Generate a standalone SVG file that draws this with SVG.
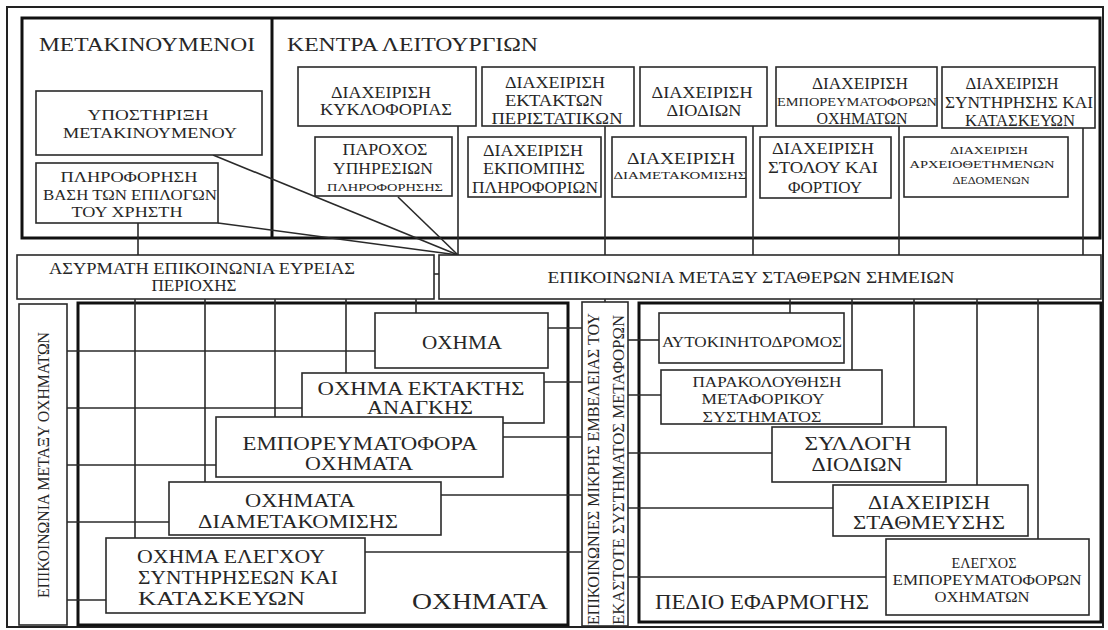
<svg xmlns="http://www.w3.org/2000/svg" width="1108" height="630" viewBox="0 0 1108 630">
<style>
.box{fill:#fff;stroke:#2a2a2a;stroke-width:1.6}
.thick{fill:none;stroke:#111;stroke-width:3}
.frame{fill:#fff;stroke:#222;stroke-width:2}
.ln{stroke:#2a2a2a;stroke-width:1.6;fill:none}
text{font-family:"Liberation Serif","DejaVu Serif","Times New Roman",serif;fill:#262626;text-anchor:middle;dominant-baseline:central}
.st{text-anchor:start}
.f11{font-size:11px}.f12{font-size:12px}.f14{font-size:14px}.f15{font-size:15px}.f16{font-size:16px}.f19{font-size:19px}.f21{font-size:21px}.f24{font-size:24px}
</style>
<rect class="frame" x="7" y="7" width="1096" height="620"/>
<g id="frames">
<rect class="thick" x="22" y="18" width="1078" height="220"/>
<line class="thick" x1="272" y1="18" x2="272" y2="238"/>
<rect class="thick" x="78" y="303" width="490" height="322"/>
<rect class="thick" x="639" y="303" width="462" height="319"/>
</g>
<g id="connectors" class="ln">
<line x1="138" y1="223" x2="138" y2="255"/>
<line x1="213" y1="155" x2="458" y2="255"/>
<line x1="218" y1="223" x2="458" y2="255"/>
<line x1="398" y1="197" x2="458" y2="255"/>
<line x1="458" y1="126" x2="458" y2="255"/>
<line x1="605" y1="126" x2="605" y2="255"/>
<line x1="753" y1="126" x2="753" y2="255"/>
<line x1="899" y1="126" x2="899" y2="255"/>
<line x1="1083" y1="128" x2="1083" y2="255"/>
<line x1="434" y1="274" x2="439" y2="274"/>
<line x1="135" y1="299" x2="135" y2="538"/>
<line x1="205" y1="299" x2="205" y2="482"/>
<line x1="275" y1="299" x2="275" y2="417"/>
<line x1="346" y1="299" x2="346" y2="373"/>
<line x1="416" y1="299" x2="416" y2="313"/>
<line x1="67" y1="351" x2="375" y2="351"/>
<line x1="67" y1="408" x2="302" y2="408"/>
<line x1="67" y1="465" x2="216" y2="465"/>
<line x1="67" y1="522" x2="169" y2="522"/>
<line x1="67" y1="600" x2="106" y2="600"/>
<line x1="548" y1="328" x2="582" y2="328"/>
<line x1="544" y1="382" x2="582" y2="382"/>
<line x1="503" y1="437" x2="582" y2="437"/>
<line x1="441" y1="495" x2="582" y2="495"/>
<line x1="365" y1="552" x2="582" y2="552"/>
<line x1="605" y1="299" x2="605" y2="302"/>
<line x1="790" y1="299" x2="790" y2="313"/>
<line x1="852" y1="299" x2="852" y2="370"/>
<line x1="914" y1="299" x2="914" y2="427"/>
<line x1="977" y1="299" x2="977" y2="485"/>
<line x1="1038" y1="299" x2="1038" y2="539"/>
<line x1="628" y1="340" x2="659" y2="340"/>
<line x1="628" y1="395" x2="661" y2="395"/>
<line x1="628" y1="453" x2="772" y2="453"/>
<line x1="628" y1="508" x2="833" y2="508"/>
<line x1="628" y1="577" x2="886" y2="577"/>
</g>
<g id="titles">
<text class="st f19" x="39" y="44" textLength="216" lengthAdjust="spacingAndGlyphs">ΜΕΤΑΚΙΝΟΥΜΕΝΟΙ</text>
<text class="st f19" x="287" y="44" textLength="251" lengthAdjust="spacingAndGlyphs">ΚΕΝΤΡΑ ΛΕΙΤΟΥΡΓΙΩΝ</text>
<text class="st f24" x="412" y="601" textLength="136" lengthAdjust="spacingAndGlyphs">ΟΧΗΜΑΤΑ</text>
<text class="st f21" x="655" y="602" textLength="214" lengthAdjust="spacingAndGlyphs">ΠΕΔΙΟ ΕΦΑΡΜΟΓΗΣ</text>
</g>
<g id="n-ypostirixi">
<rect class="box" x="36" y="91" width="226" height="64"/>
<text class="f15" x="148" y="115" textLength="121" lengthAdjust="spacingAndGlyphs">ΥΠΟΣΤΗΡΙΞΗ</text>
<text class="f15" x="150" y="133" textLength="174" lengthAdjust="spacingAndGlyphs">ΜΕΤΑΚΙΝΟΥΜΕΝΟΥ</text>
</g>
<g id="n-pliroforisi">
<rect class="box" x="36" y="163" width="182" height="60"/>
<text class="f14" x="129" y="177" textLength="137" lengthAdjust="spacingAndGlyphs">ΠΛΗΡΟΦΟΡΗΣΗ</text>
<text class="f14" x="130" y="195" textLength="174" lengthAdjust="spacingAndGlyphs">ΒΑΣΗ ΤΩΝ ΕΠΙΛΟΓΩΝ</text>
<text class="f14" x="127" y="212" textLength="111" lengthAdjust="spacingAndGlyphs">ΤΟΥ ΧΡΗΣΤΗ</text>
</g>
<g id="n-kykloforia">
<rect class="box" x="298" y="67" width="178" height="59"/>
<text class="f16" x="381" y="92" textLength="100" lengthAdjust="spacingAndGlyphs">ΔΙΑΧΕΙΡΙΣΗ</text>
<text class="f16" x="386" y="109" textLength="132" lengthAdjust="spacingAndGlyphs">ΚΥΚΛΟΦΟΡΙΑΣ</text>
</g>
<g id="n-ektakta">
<rect class="box" x="482" y="67" width="152" height="59"/>
<text class="f16" x="555" y="82" textLength="100" lengthAdjust="spacingAndGlyphs">ΔΙΑΧΕΙΡΙΣΗ</text>
<text class="f16" x="554" y="100" textLength="98" lengthAdjust="spacingAndGlyphs">ΕΚΤΑΚΤΩΝ</text>
<text class="f16" x="557" y="118" textLength="131" lengthAdjust="spacingAndGlyphs">ΠΕΡΙΣΤΑΤΙΚΩΝ</text>
</g>
<g id="n-diodia">
<rect class="box" x="640" y="67" width="127" height="59"/>
<text class="f16" x="702" y="92" textLength="101" lengthAdjust="spacingAndGlyphs">ΔΙΑΧΕΙΡΙΣΗ</text>
<text class="f16" x="704" y="110" textLength="75" lengthAdjust="spacingAndGlyphs">ΔΙΟΔΙΩΝ</text>
</g>
<g id="n-emporeumatofora">
<rect class="box" x="776" y="67" width="161" height="59"/>
<text class="f16" x="860" y="83" textLength="96" lengthAdjust="spacingAndGlyphs">ΔΙΑΧΕΙΡΙΣΗ</text>
<text class="f12" x="857" y="102" textLength="160" lengthAdjust="spacingAndGlyphs">ΕΜΠΟΡΕΥΜΑΤΟΦΟΡΩΝ</text>
<text class="f16" x="862" y="118" textLength="91" lengthAdjust="spacingAndGlyphs">ΟΧΗΜΑΤΩΝ</text>
</g>
<g id="n-syntirisi">
<rect class="box" x="942" y="67" width="153" height="61"/>
<text class="f16" x="1012" y="83" textLength="93" lengthAdjust="spacingAndGlyphs">ΔΙΑΧΕΙΡΙΣΗ</text>
<text class="f16" x="1019" y="102" textLength="148" lengthAdjust="spacingAndGlyphs">ΣΥΝΤΗΡΗΣΗΣ ΚΑΙ</text>
<text class="f16" x="1020" y="120" textLength="110" lengthAdjust="spacingAndGlyphs">ΚΑΤΑΣΚΕΥΩΝ</text>
</g>
<g id="n-parochos">
<rect class="box" x="315" y="137" width="137" height="59"/>
<text class="f16" x="385" y="149" textLength="85" lengthAdjust="spacingAndGlyphs">ΠΑΡΟΧΟΣ</text>
<text class="f16" x="383" y="168" textLength="100" lengthAdjust="spacingAndGlyphs">ΥΠΗΡΕΣΙΩΝ</text>
<text class="f11" x="385" y="187" textLength="116" lengthAdjust="spacingAndGlyphs">ΠΛΗΡΟΦΟΡΗΣΗΣ</text>
</g>
<g id="n-ekpompi">
<rect class="box" x="468" y="137" width="133" height="60"/>
<text class="f16" x="533" y="150" textLength="100" lengthAdjust="spacingAndGlyphs">ΔΙΑΧΕΙΡΙΣΗ</text>
<text class="f16" x="534" y="168" textLength="102" lengthAdjust="spacingAndGlyphs">ΕΚΠΟΜΠΗΣ</text>
<text class="f16" x="535" y="187" textLength="126" lengthAdjust="spacingAndGlyphs">ΠΛΗΡΟΦΟΡΙΩΝ</text>
</g>
<g id="n-diametakomisi">
<rect class="box" x="612" y="137" width="134" height="60"/>
<text class="f16" x="681" y="158" textLength="108" lengthAdjust="spacingAndGlyphs">ΔΙΑΧΕΙΡΙΣΗ</text>
<text class="f11" x="680" y="175" textLength="133" lengthAdjust="spacingAndGlyphs">ΔΙΑΜΕΤΑΚΟΜΙΣΗΣ</text>
</g>
<g id="n-stolos">
<rect class="box" x="760" y="137" width="131" height="61"/>
<text class="f16" x="823" y="148" textLength="102" lengthAdjust="spacingAndGlyphs">ΔΙΑΧΕΙΡΙΣΗ</text>
<text class="f16" x="823" y="167" textLength="110" lengthAdjust="spacingAndGlyphs">ΣΤΟΛΟΥ ΚΑΙ</text>
<text class="f16" x="825" y="187" textLength="74" lengthAdjust="spacingAndGlyphs">ΦΟΡΤΙΟΥ</text>
</g>
<g id="n-archeia">
<rect class="box" x="904" y="137" width="164" height="60"/>
<text class="f11" x="989" y="150" textLength="78" lengthAdjust="spacingAndGlyphs">ΔΙΑΧΕΙΡΙΣΗ</text>
<text class="f11" x="982" y="164" textLength="145" lengthAdjust="spacingAndGlyphs">ΑΡΧΕΙΟΘΕΤΗΜΕΝΩΝ</text>
<text class="f11" x="991" y="180" textLength="77" lengthAdjust="spacingAndGlyphs">ΔΕΔΟΜΕΝΩΝ</text>
</g>
<g id="n-asyrmati">
<rect class="box" x="17" y="255" width="417" height="44"/>
<text class="f16" x="202" y="268" textLength="306" lengthAdjust="spacingAndGlyphs">ΑΣΥΡΜΑΤΗ ΕΠΙΚΟΙΝΩΝΙΑ ΕΥΡΕΙΑΣ</text>
<text class="f16" x="194" y="285" textLength="85" lengthAdjust="spacingAndGlyphs">ΠΕΡΙΟΧΗΣ</text>
</g>
<g id="n-statheres">
<rect class="box" x="439" y="255" width="662" height="44"/>
<text class="f16" x="751" y="277" textLength="407" lengthAdjust="spacingAndGlyphs">ΕΠΙΚΟΙΝΩΝΙΑ ΜΕΤΑΞΥ ΣΤΑΘΕΡΩΝ ΣΗΜΕΙΩΝ</text>
</g>
<g id="n-metaxy-ochimaton">
<rect class="box" x="19" y="304" width="48" height="321"/>
<text class="f16" transform="translate(43,465) rotate(-90)" x="0" y="0" textLength="266" lengthAdjust="spacingAndGlyphs">ΕΠΙΚΟΙΝΩΝΙΑ ΜΕΤΑΞΥ ΟΧΗΜΑΤΩΝ</text>
</g>
<g id="n-ochima">
<rect class="box" x="375" y="313" width="173" height="55"/>
<text class="f19" x="462" y="342" textLength="80" lengthAdjust="spacingAndGlyphs">ΟΧΗΜΑ</text>
</g>
<g id="n-ektaktis">
<rect class="box" x="302" y="373" width="242" height="50"/>
<text class="f19" x="421" y="388" textLength="207" lengthAdjust="spacingAndGlyphs">ΟΧΗΜΑ ΕΚΤΑΚΤΗΣ</text>
<text class="f19" x="420" y="407" textLength="106" lengthAdjust="spacingAndGlyphs">ΑΝΑΓΚΗΣ</text>
</g>
<g id="n-emporeumatofora-ochimata">
<rect class="box" x="216" y="417" width="287" height="60"/>
<text class="f19" x="360" y="443" textLength="235" lengthAdjust="spacingAndGlyphs">ΕΜΠΟΡΕΥΜΑΤΟΦΟΡΑ</text>
<text class="f19" x="359" y="463" textLength="108" lengthAdjust="spacingAndGlyphs">ΟΧΗΜΑΤΑ</text>
</g>
<g id="n-ochimata-diametakomisis">
<rect class="box" x="169" y="482" width="272" height="53"/>
<text class="f19" x="300" y="500" textLength="110" lengthAdjust="spacingAndGlyphs">ΟΧΗΜΑΤΑ</text>
<text class="f19" x="298" y="521" textLength="200" lengthAdjust="spacingAndGlyphs">ΔΙΑΜΕΤΑΚΟΜΙΣΗΣ</text>
</g>
<g id="n-elegchou">
<rect class="box" x="106" y="538" width="259" height="75"/>
<text class="st f19" x="137" y="556" textLength="188" lengthAdjust="spacingAndGlyphs">ΟΧΗΜΑ ΕΛΕΓΧΟΥ</text>
<text class="st f19" x="138" y="577" textLength="200" lengthAdjust="spacingAndGlyphs">ΣΥΝΤΗΡΗΣΕΩΝ ΚΑΙ</text>
<text class="st f19" x="138" y="598" textLength="167" lengthAdjust="spacingAndGlyphs">ΚΑΤΑΣΚΕΥΩΝ</text>
</g>
<g id="n-mikris-embeleias">
<rect class="box" x="582" y="302" width="46" height="324"/>
<text class="f16" transform="translate(593,469) rotate(-90)" x="0" y="0" textLength="312" lengthAdjust="spacingAndGlyphs">ΕΠΙΚΟΙΝΩΝΙΕΣ ΜΙΚΡΗΣ ΕΜΒΕΛΕΙΑΣ ΤΟΥ</text>
<text class="f16" transform="translate(618,470) rotate(-90)" x="0" y="0" textLength="310" lengthAdjust="spacingAndGlyphs">ΕΚΑΣΤΟΤΕ ΣΥΣΤΗΜΑΤΟΣ ΜΕΤΑΦΟΡΩΝ</text>
</g>
<g id="n-aftokinitodromos">
<rect class="box" x="659" y="313" width="185" height="50"/>
<text class="f14" x="752" y="342" textLength="180" lengthAdjust="spacingAndGlyphs">ΑΥΤΟΚΙΝΗΤΟΔΡΟΜΟΣ</text>
</g>
<g id="n-parakolouthisi">
<rect class="box" x="661" y="370" width="221" height="54"/>
<text class="f14" x="767" y="382" textLength="149" lengthAdjust="spacingAndGlyphs">ΠΑΡΑΚΟΛΟΥΘΗΣΗ</text>
<text class="f14" x="763" y="399" textLength="123" lengthAdjust="spacingAndGlyphs">ΜΕΤΑΦΟΡΙΚΟΥ</text>
<text class="f14" x="762" y="417" textLength="119" lengthAdjust="spacingAndGlyphs">ΣΥΣΤΗΜΑΤΟΣ</text>
</g>
<g id="n-syllogi">
<rect class="box" x="772" y="427" width="174" height="55"/>
<text class="f19" x="858" y="443" textLength="107" lengthAdjust="spacingAndGlyphs">ΣΥΛΛΟΓΗ</text>
<text class="f19" x="857" y="464" textLength="91" lengthAdjust="spacingAndGlyphs">ΔΙΟΔΙΩΝ</text>
</g>
<g id="n-stathmeusi">
<rect class="box" x="833" y="485" width="195" height="51"/>
<text class="f19" x="929" y="502" textLength="122" lengthAdjust="spacingAndGlyphs">ΔΙΑΧΕΙΡΙΣΗ</text>
<text class="f19" x="929" y="522" textLength="152" lengthAdjust="spacingAndGlyphs">ΣΤΑΘΜΕΥΣΗΣ</text>
</g>
<g id="n-elegchos">
<rect class="box" x="886" y="539" width="203" height="76"/>
<text class="f14" x="984" y="563" textLength="65" lengthAdjust="spacingAndGlyphs">ΕΛΕΓΧΟΣ</text>
<text class="f14" x="987" y="580" textLength="189" lengthAdjust="spacingAndGlyphs">ΕΜΠΟΡΕΥΜΑΤΟΦΟΡΩΝ</text>
<text class="f14" x="982" y="597" textLength="95" lengthAdjust="spacingAndGlyphs">ΟΧΗΜΑΤΩΝ</text>
</g>
</svg>
